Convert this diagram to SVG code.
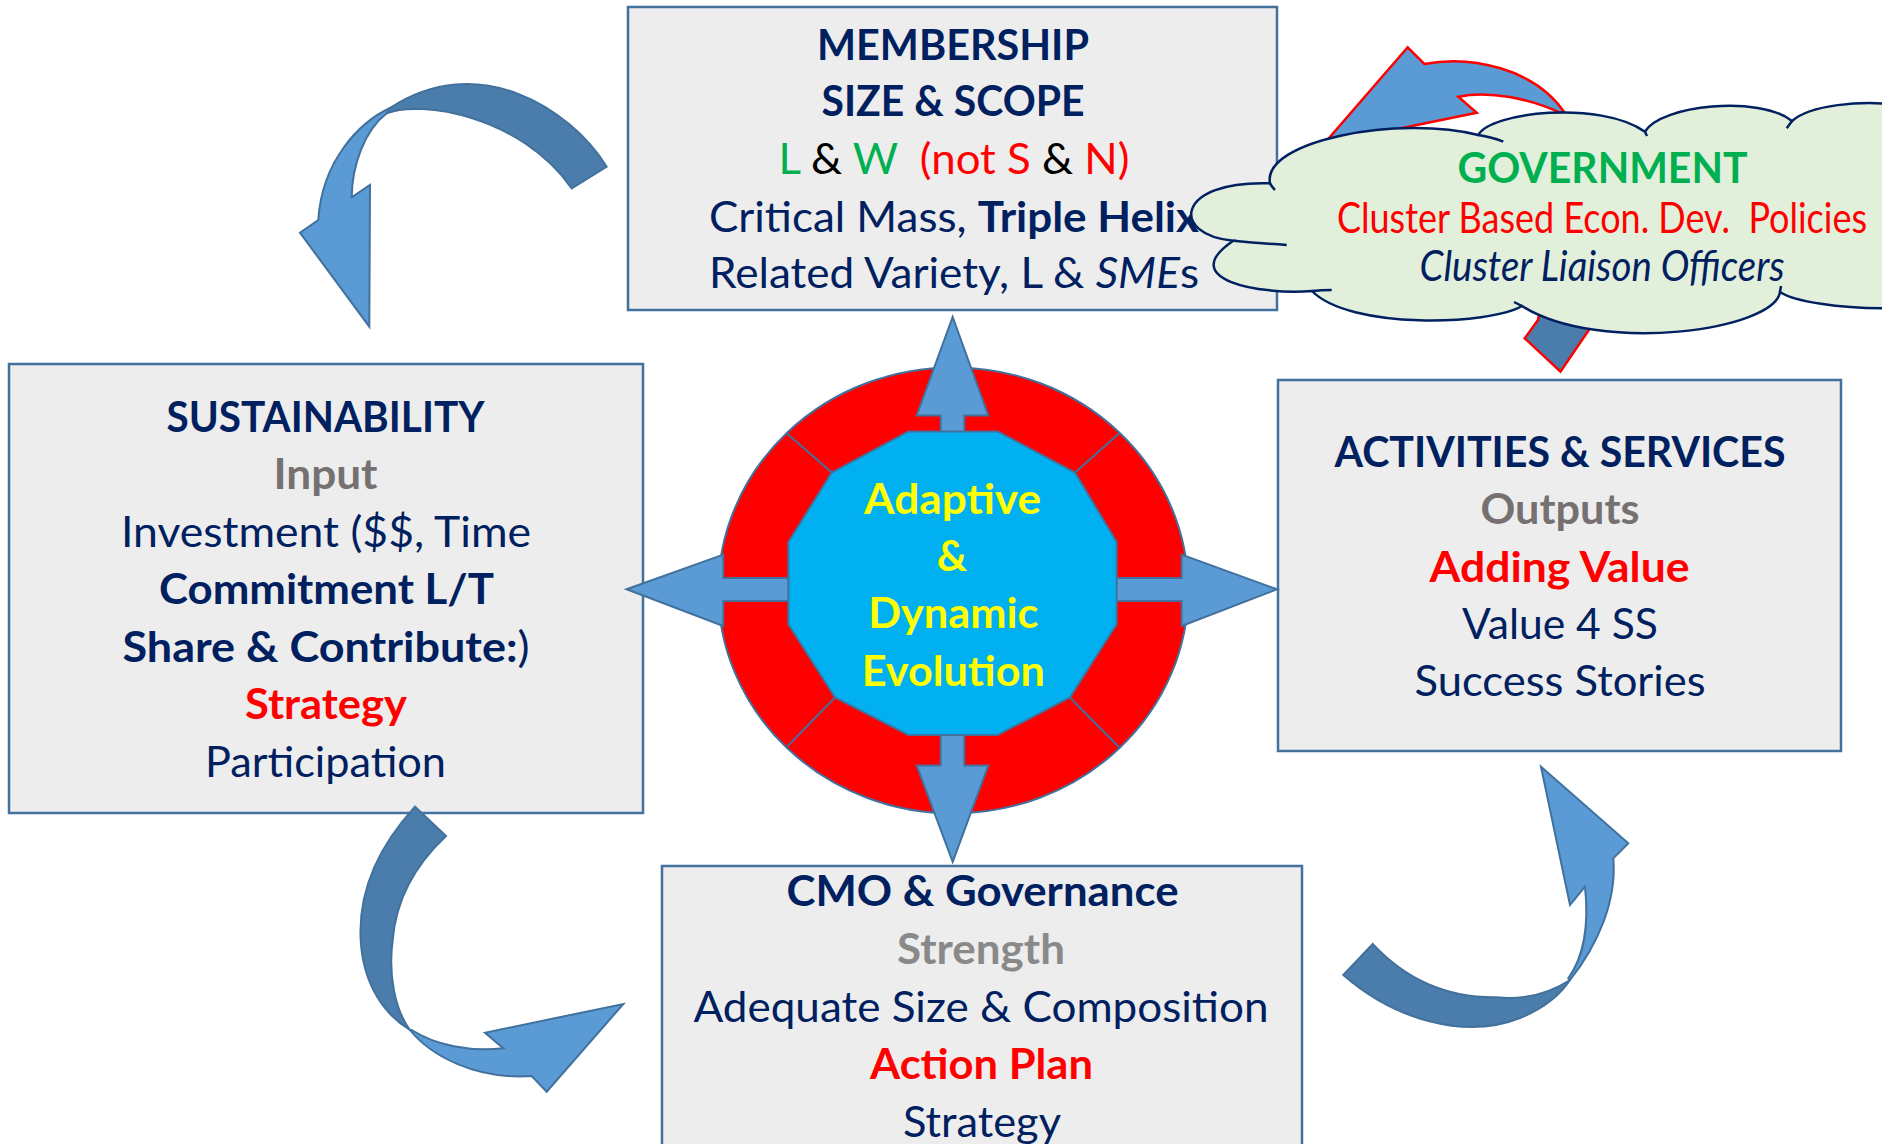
<svg xmlns="http://www.w3.org/2000/svg" width="1882" height="1144" viewBox="0 0 1882 1144">
<style>
.box{fill:#EDEDED;stroke:#41719C;stroke-width:2.5}
text{font-family:Lato,'Open Sans',sans-serif;font-size:42px;text-anchor:middle;fill:#002060}
.b{font-weight:700}
.i{font-style:italic}
.r{font-weight:400}
.gray{fill:#767171}
.lgray{fill:#898989}
.red{fill:#FF0000}
.green{fill:#00B050}
.blk{fill:#000000}
.yel{fill:#FFFF00;font-weight:700}
.arr{fill:#5B9BD5;stroke:#41719C;stroke-width:2}
.dark{fill:#4A7DAB;stroke:#41719C;stroke-width:2}
.redarr{fill:#5B9BD5;stroke:#FF0000;stroke-width:2.5}
.reddark{fill:#4A7DAB;stroke:#FF0000;stroke-width:2.5}
.cloud{fill:#E2EFDA;stroke:#002060;stroke-width:2.5}
.tail{fill:none;stroke:#002060;stroke-width:2.5}
.div{stroke:#41719C;stroke-width:2}
</style>
<rect width="1882" height="1144" fill="#FFFFFF"/>

<g id="membership">
<rect class="box" x="628" y="7" width="649" height="303"/>
<text class="b" x="953" y="60" textLength="272" lengthAdjust="spacingAndGlyphs">MEMBERSHIP</text>
<text class="b" x="953" y="116" textLength="263" lengthAdjust="spacingAndGlyphs">SIZE &amp; SCOPE</text>
<text x="954" y="174" textLength="351" lengthAdjust="spacingAndGlyphs" xml:space="preserve"><tspan class="green">L</tspan><tspan class="blk"> &amp; </tspan><tspan class="green">W</tspan><tspan class="red">  (not S</tspan><tspan class="blk"> &amp; </tspan><tspan class="red">N)</tspan></text>
<text x="954" y="232" textLength="490" lengthAdjust="spacingAndGlyphs">Critical Mass, <tspan class="b">Triple Helix</tspan></text>
<text x="954" y="288" textLength="490" lengthAdjust="spacingAndGlyphs">Related Variety, L &amp; <tspan class="i">SME</tspan>s</text>
</g>

<g id="sustainability">
<rect class="box" x="9" y="364" width="634" height="449"/>
<text class="b" x="325.5" y="431.5" textLength="318" lengthAdjust="spacingAndGlyphs">SUSTAINABILITY</text>
<text class="b gray" x="325.5" y="489" textLength="104" lengthAdjust="spacingAndGlyphs">Input</text>
<text x="326" y="547" textLength="410" lengthAdjust="spacingAndGlyphs">Investment ($$, Time</text>
<text class="b" x="326.5" y="604" textLength="335" lengthAdjust="spacingAndGlyphs">Commitment L/T</text>
<text class="b" x="326" y="662" textLength="407" lengthAdjust="spacingAndGlyphs">Share &amp; Contribute:<tspan class="r">)</tspan></text>
<text class="b red" x="326" y="718.5" textLength="162" lengthAdjust="spacingAndGlyphs">Strategy</text>
<text x="325.5" y="777" textLength="241" lengthAdjust="spacingAndGlyphs">Participation</text>
</g>

<g id="activities">
<rect class="box" x="1278" y="380" width="563" height="371"/>
<text class="b" x="1560" y="466.5" textLength="451" lengthAdjust="spacingAndGlyphs">ACTIVITIES &amp; SERVICES</text>
<text class="b gray" x="1560" y="524" textLength="159" lengthAdjust="spacingAndGlyphs">Outputs</text>
<text class="b red" x="1559.5" y="581.5" textLength="260" lengthAdjust="spacingAndGlyphs">Adding Value</text>
<text x="1560" y="639" textLength="196" lengthAdjust="spacingAndGlyphs">Value 4 SS</text>
<text x="1560" y="696" textLength="291" lengthAdjust="spacingAndGlyphs">Success Stories</text>
</g>

<g id="cmo">
<rect class="box" x="662" y="866" width="640" height="300"/>
<text class="b" x="982.5" y="906" textLength="392" lengthAdjust="spacingAndGlyphs">CMO &amp; Governance</text>
<text class="b lgray" x="981" y="964" textLength="168" lengthAdjust="spacingAndGlyphs">Strength</text>
<text x="981" y="1021.5" textLength="575" lengthAdjust="spacingAndGlyphs">Adequate Size &amp; Composition</text>
<text class="b red" x="981.5" y="1079" textLength="223" lengthAdjust="spacingAndGlyphs">Action Plan</text>
<text x="982" y="1136.5" textLength="158" lengthAdjust="spacingAndGlyphs">Strategy</text>
</g>

<g id="hub">
<ellipse cx="953.3" cy="590.4" rx="235" ry="223" fill="#FF0000" stroke="#41719C" stroke-width="2"/>
<line class="div" x1="831.7" y1="472.5" x2="786.7" y2="433.2"/>
<line class="div" x1="1075" y1="472.5" x2="1119.3" y2="433.2"/>
<line class="div" x1="835" y1="697.5" x2="787.3" y2="746.4"/>
<line class="div" x1="1070" y1="697.5" x2="1119.3" y2="747.5"/>
<polygon class="arr" points="952.7,317 988.3,415.4 964.3,415.4 964.3,445 940.7,445 940.7,415.4 916.7,415.4"/>
<polygon class="arr" points="952.7,861.8 988.3,765.4 964.3,765.4 964.3,725 940.7,725 940.7,765.4 916.7,765.4"/>
<polygon class="arr" points="626.6,589.3 723.3,554.6 723.3,577.9 800,577.9 800,601.1 723.3,601.1 723.3,626"/>
<polygon class="arr" points="1277,589.3 1181.7,554.6 1181.7,577.9 1105,577.9 1105,601.1 1181.7,601.1 1181.7,626"/>
<polygon points="908.3,431.4 997.7,431.4 1075,472.5 1116.7,542.1 1116.7,624.3 1070,697.5 997.7,735 908.3,735 835,697.5 788.3,624.3 788.3,542.1 831.7,472.5" fill="#00B0F0" stroke="#41719C" stroke-width="2"/>
<text class="yel" x="952.5" y="514.3" textLength="177" lengthAdjust="spacingAndGlyphs">Adaptive</text>
<text class="yel" x="952" y="570.7">&amp;</text>
<text class="yel" x="953.3" y="627.9" textLength="170" lengthAdjust="spacingAndGlyphs">Dynamic</text>
<text class="yel" x="953.3" y="685.7" textLength="183" lengthAdjust="spacingAndGlyphs">Evolution</text>
</g>

<g id="connectors">
<path class="dark" d="M606.7,166.7 C570,108 478,50 390,108 L386.7,113.3 C420,100 520,115 571.7,188.3 Z"/>
<path class="arr" d="M390,108 C360,122 322,160 318.3,220 L300,232.7 L369.3,326.7 L370,185 L351.7,197.3 C352,165 365,130 386.7,113.3 Z"/>
<path class="dark" d="M415,806.7 C380,845 358,890 360.7,940 C363,985 385,1015 410,1030 C395,1010 388,975 392.7,940 C396,900 415,865 446,836 Z"/>
<path class="arr" d="M410,1030 C430,1055 475,1080 531.7,1076 L546.7,1091.7 L623.3,1004 L485,1032.7 L503.3,1048.3 C470,1052 435,1045 411.7,1030 Z"/>
<path class="dark" d="M1343.3,975 C1395,1020 1465,1040 1520,1018 C1545,1008 1560,995 1570,980 C1550,993 1525,1000 1496.7,997.3 C1450,998 1408,982 1372.7,944 Z"/>
<path class="arr" d="M1570,980 C1598,945 1617,900 1613.3,858.3 L1628.3,843.3 L1541,766.7 L1570,905 L1585,886.7 C1589,925 1585,955 1568.3,978.3 Z"/>
<path class="redarr" d="M1407.7,47.3 L1424.3,64 C1470,55 1535,68 1565,113.3 L1572,135 L1555,135 L1560,112.7 C1530,99 1490,90 1458.3,96.7 L1476.7,112.7 L1408.3,126.7 L1323,145 Z"/>
<path class="reddark" d="M1542,300 L1538,320 L1524.7,338.3 L1560.5,371.7 L1591,326.7 L1595,300 Z"/>
</g>

<g id="government">
<path class="cloud" d="M1270,183.3 C1262,140 1400,115 1478.3,135 C1490,112 1600,100 1645,131.7 C1660,105 1760,95 1792,121 C1810,105 1860,100 1900,105 L1900,308 L1882,308.3 C1840,308 1795,302 1780,292 C1775,330 1600,355 1522,306 C1490,325 1350,330 1312,291 C1260,295 1175,280 1233.3,240.7 C1170,235 1175,180 1270,183.3 Z"/>
<path class="tail" d="M1478.3,135 Q1492,137 1503.3,141.7 M1270,183.3 Q1272,187 1275,190 M1233.3,240.7 Q1258,243 1286.7,245 M1312,291 Q1322,290 1331.7,290 M1522,306 L1514,302 M1792,121 L1786.7,128.3 M1645,131.7 L1647,136 M1780,292 L1781,286"/>
<text class="b green" x="1602.5" y="182.7" font-size="39" textLength="290" lengthAdjust="spacingAndGlyphs">GOVERNMENT</text>
<text class="red" x="1602" y="232.7" font-size="35" textLength="530" lengthAdjust="spacingAndGlyphs" xml:space="preserve">Cluster Based Econ. Dev.  Policies</text>
<text class="i" x="1602" y="280.7" font-size="35" textLength="365" lengthAdjust="spacingAndGlyphs">Cluster Liaison Officers</text>
</g>
</svg>
